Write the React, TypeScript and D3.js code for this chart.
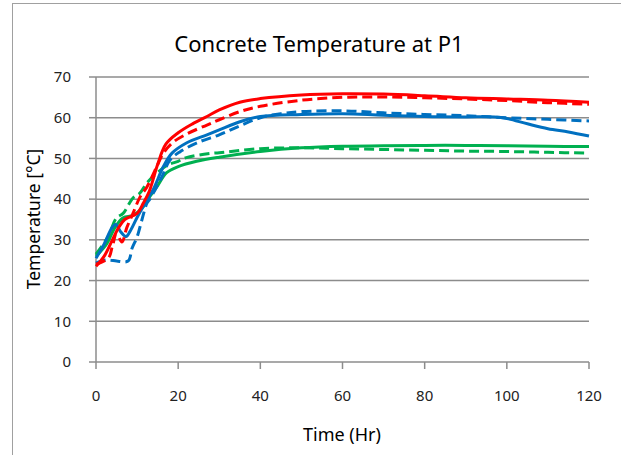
import React from "react";
import * as d3 from "d3";

const chartTitle = "Concrete Temperature at P1";
const xTitle = "Time (Hr)";
const yTitle = "Temperature [°C]";
const xTicks = [0, 20, 40, 60, 80, 100, 120];
const yTicks = [0, 10, 20, 30, 40, 50, 60, 70];

const timeRedSolid = [0, 2, 4, 5.5, 7, 10, 11.5, 13, 15, 17, 20, 23.5, 27, 30, 35, 40, 50, 60, 70, 80, 90, 100, 110, 120];
const tempRedSolid = [23.5, 26, 30, 33, 35, 36.5, 39, 42, 48.5, 53.5, 56.3, 58.5, 60.3, 61.9, 63.8, 64.7, 65.6, 65.9, 65.8, 65.4, 64.9, 64.6, 64.3, 63.8];

const timeRedDashed = [0, 3, 4, 5, 6.3, 7.5, 9, 10.7, 12.4, 14.8, 16.4, 18.8, 22.5, 27, 30, 35, 40, 50, 60, 70, 80, 90, 100, 110, 120];
const tempRedDashed = [24, 25.5, 28.5, 31.5, 29.5, 33, 36.5, 40.5, 43, 48, 51.3, 54, 56.2, 58.2, 59.5, 61.5, 62.8, 64.3, 65, 65.1, 64.9, 64.6, 64.2, 63.7, 63.3];

const timeBlueSolid = [0, 2, 3.9, 4.8, 6, 7.3, 8.5, 10, 12.4, 14, 16.4, 18.5, 22, 27, 30, 35, 40, 50, 60, 70, 80, 90, 97, 100, 105, 110, 115, 120];
const tempBlueSolid = [25.5, 29, 33, 33.8, 32, 30.8, 32.5, 35.5, 39.8, 42.5, 48, 51.3, 53.8, 55.8, 57, 59, 60.3, 60.8, 61, 60.6, 60.3, 60.2, 60.2, 59.8, 58.5, 57.3, 56.5, 55.5];

const timeBlueDashed = [0, 2, 3.5, 5, 7.8, 8.8, 10, 11.2, 12.4, 13.1, 16, 18, 20.4, 25, 30, 35, 40, 45, 50, 60, 70, 80, 90, 100, 110, 120];
const tempBlueDashed = [24.3, 25, 25, 24.8, 24.8, 28, 30.7, 35, 39, 40, 45.4, 49.6, 51.6, 54, 55.8, 58, 60, 61, 61.5, 61.7, 61.2, 60.8, 60.5, 60, 59.6, 59.2];

const timeGreenSolid = [0, 2.6, 4.6, 6.6, 9, 11.4, 13, 14.8, 17.2, 20, 24.5, 30, 40, 50, 60, 70, 80, 90, 100, 110, 120];
const tempGreenSolid = [26, 29, 33, 35.4, 36, 38, 40.5, 43, 46.5, 48, 49.3, 50.3, 51.7, 52.6, 53, 53.1, 53.2, 53.2, 53.1, 53, 52.9];

const timeGreenDashed = [0, 2.9, 5, 6.6, 9, 10.7, 12.4, 14.8, 17.5, 20, 22, 27.7, 30, 40, 50, 60, 70, 80, 90, 100, 110, 120];
const tempGreenDashed = [26.5, 30.7, 35.4, 36.5, 40.3, 41.5, 44, 46.4, 48.4, 49.3, 50.2, 51.2, 51.4, 52.4, 52.6, 52.4, 52.2, 52, 51.8, 51.7, 51.5, 51.3];

const seriesList = [
  { key: "gd", t: timeGreenDashed, v: tempGreenDashed, color: "#00B050", dashed: true },
  { key: "gs", t: timeGreenSolid, v: tempGreenSolid, color: "#00B050", dashed: false },
  { key: "bd", t: timeBlueDashed, v: tempBlueDashed, color: "#0070C0", dashed: true },
  { key: "bs", t: timeBlueSolid, v: tempBlueSolid, color: "#0070C0", dashed: false },
  { key: "rd", t: timeRedDashed, v: tempRedDashed, color: "#FF0000", dashed: true },
  { key: "rs", t: timeRedSolid, v: tempRedSolid, color: "#FF0000", dashed: false },
];

const W = 621;
const H = 455;
const FONT = "'Noto Sans', 'Open Sans', sans-serif";

export default function App() {
  const x = d3.scaleLinear().domain([0, 120]).range([96, 589]);
  const y = d3.scaleLinear().domain([0, 70]).range([362, 77]);
  const line = d3
    .line<[number, number]>()
    .x((d) => x(d[0]))
    .y((d) => y(d[1]))
    .curve(d3.curveCatmullRom.alpha(0.5));
  const grid = "#8c8c8c";

  return (
    <svg width={W} height={H} style={{ position: "absolute", left: 0, top: 0, background: "#fff" }}>
      <rect x={12.5} y={3.5} width={640} height={480} fill="#fff" stroke="#a0a0a0" strokeWidth={1} />
      <text x={319} y={52} textAnchor="middle" fontFamily={FONT} fontSize={22} fill="#000">
        {chartTitle}
      </text>
      {yTicks.map((t) => (
        <g key={"y" + t}>
          {t > 0 && <line x1={x(0)} x2={x(120)} y1={y(t)} y2={y(t)} stroke={grid} strokeWidth={1.5} />}
          <line x1={x(0) - 7} x2={x(0)} y1={y(t)} y2={y(t)} stroke={grid} strokeWidth={1.5} />
          <text x={71} y={y(t)} dy="0.35em" textAnchor="end" fontFamily={FONT} fontSize={15} fill="#222">
            {t}
          </text>
        </g>
      ))}
      <line x1={x(0)} x2={x(0)} y1={y(70)} y2={y(0)} stroke={grid} strokeWidth={1.5} />
      <line x1={x(0)} x2={x(120)} y1={y(0)} y2={y(0)} stroke={grid} strokeWidth={1.5} />
      {xTicks.map((t) => (
        <g key={"x" + t}>
          <line x1={x(t)} x2={x(t)} y1={y(0)} y2={y(0) + 7} stroke={grid} strokeWidth={1.5} />
          <text x={x(t)} y={401} textAnchor="middle" fontFamily={FONT} fontSize={15} fill="#222">
            {t}
          </text>
        </g>
      ))}
      <text x={342} y={441} textAnchor="middle" fontFamily={FONT} fontSize={18} fill="#000">
        {xTitle}
      </text>
      <text
        transform={`translate(40,219) rotate(-90)`}
        textAnchor="middle"
        fontFamily={FONT}
        fontSize={17.5}
        fill="#000"
      >
        {yTitle}
      </text>
      {seriesList.map((s) => {
        const pts = s.t.map((tt, i) => [tt, s.v[i]] as [number, number]);
        return (
          <path
            key={s.key}
            d={line(pts) || ""}
            fill="none"
            stroke={s.color}
            strokeWidth={3}
            strokeDasharray={s.dashed ? "10,5" : undefined}
            strokeLinejoin="round"
          />
        );
      })}
    </svg>
  );
}
